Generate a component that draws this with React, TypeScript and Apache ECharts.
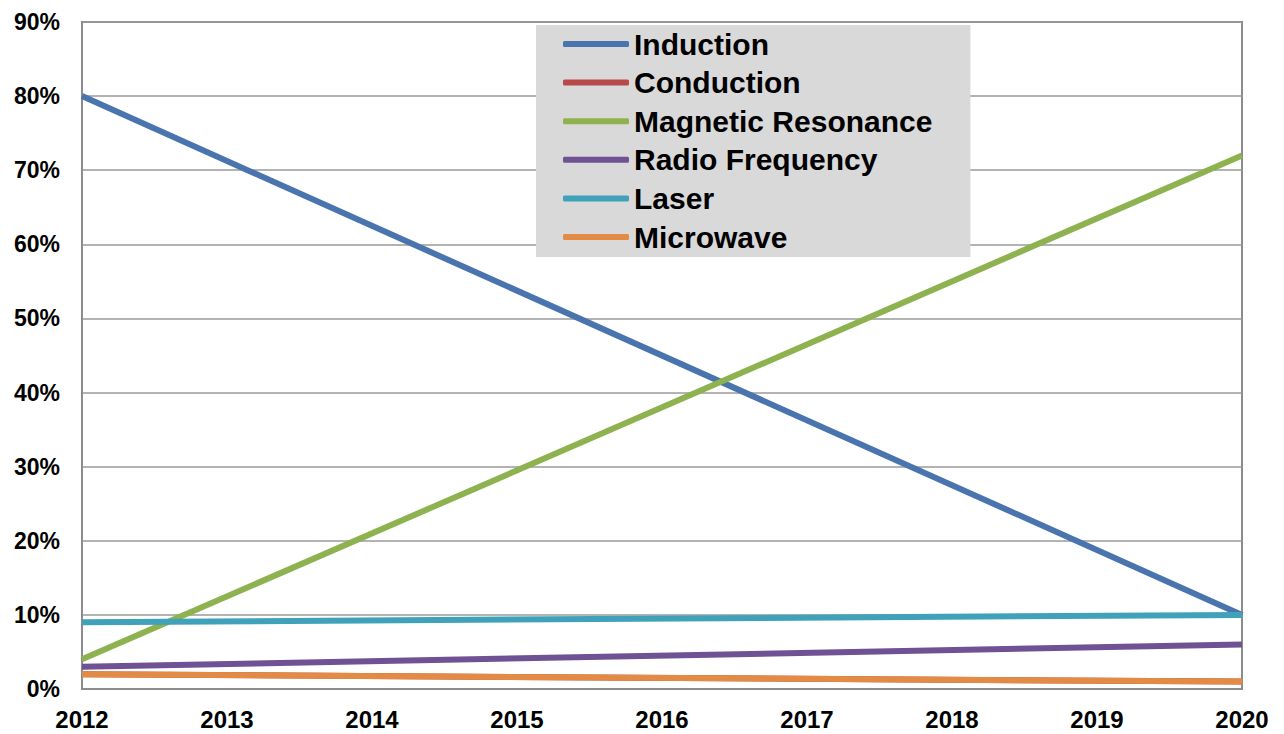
import React, { useEffect, useRef } from "react";
import * as echarts from "echarts";

const years = ["2012", "2013", "2014", "2015", "2016", "2017", "2018", "2019", "2020"];
// Lines are straight from 2012 to 2020; only the end values are read, the rest are joined by connectNulls.
const induction = [80, null, null, null, null, null, null, null, 10];
const conduction = [2, null, null, null, null, null, null, null, 1];
const magneticResonance = [4, null, null, null, null, null, null, null, 72];
const radioFrequency = [3, null, null, null, null, null, null, null, 6];
const laser = [9, null, null, null, null, null, null, null, 10];
const microwave = [2, null, null, null, null, null, null, null, 1];

const seriesNames = ["Induction", "Conduction", "Magnetic Resonance", "Radio Frequency", "Laser", "Microwave"];
const seriesData = [induction, conduction, magneticResonance, radioFrequency, laser, microwave];
const colors = ["#4a74ad", "#b9484a", "#8db24f", "#6f5293", "#3fa1ba", "#e38b45"];

const FONT = "'Liberation Sans', Arial, sans-serif";

export default function App() {
  const ref = useRef<HTMLDivElement>(null);
  useEffect(() => {
    const chart = echarts.init(ref.current!, null, { renderer: "svg" });
    chart.setOption({
      animation: false,
      backgroundColor: "#ffffff",
      grid: {
        left: 82,
        right: 42,
        top: 22,
        bottom: 45,
        show: true,
        borderColor: "#8c8c8c",
        borderWidth: 2,
      },
      legend: {
        orient: "vertical",
        left: 536,
        top: 25,
        backgroundColor: "#d9d9d9",
        padding: [4, 38, 5, 27],
        itemWidth: 66,
        itemHeight: 6,
        itemGap: 8.6,
        icon: "roundRect",
        textStyle: {
          fontFamily: FONT,
          fontWeight: "bold",
          fontSize: 30,
          color: "#000",
        },
        data: seriesNames,
      },
      xAxis: {
        type: "category",
        data: years,
        boundaryGap: false,
        axisLine: { show: true, lineStyle: { color: "#8c8c8c", width: 2 } },
        axisTick: { show: false },
        axisLabel: {
          color: "#000",
          fontFamily: FONT,
          fontWeight: "bold",
          fontSize: 24,
          margin: 18,
        },
        splitLine: { show: false },
      },
      yAxis: {
        type: "value",
        min: 0,
        max: 90,
        interval: 10,
        axisLine: { show: true, lineStyle: { color: "#8c8c8c", width: 2 } },
        axisTick: { show: false },
        axisLabel: {
          formatter: "{value}%",
          color: "#000",
          fontFamily: FONT,
          fontWeight: "bold",
          fontSize: 23,
          margin: 22,
        },
        splitLine: { show: true, lineStyle: { color: "#9a9a9a", width: 1.5 } },
      },
      series: seriesNames.map((name, i) => ({
        name,
        type: "line",
        data: seriesData[i],
        connectNulls: true,
        showSymbol: false,
        symbol: "none",
        color: colors[i],
        lineStyle: { width: 6, color: colors[i] },
      })),
    });
    return () => chart.dispose();
  }, []);
  return (
    <div
      ref={ref}
      style={{ position: "fixed", left: 0, top: 0, width: 1284, height: 734 }}
    />
  );
}
